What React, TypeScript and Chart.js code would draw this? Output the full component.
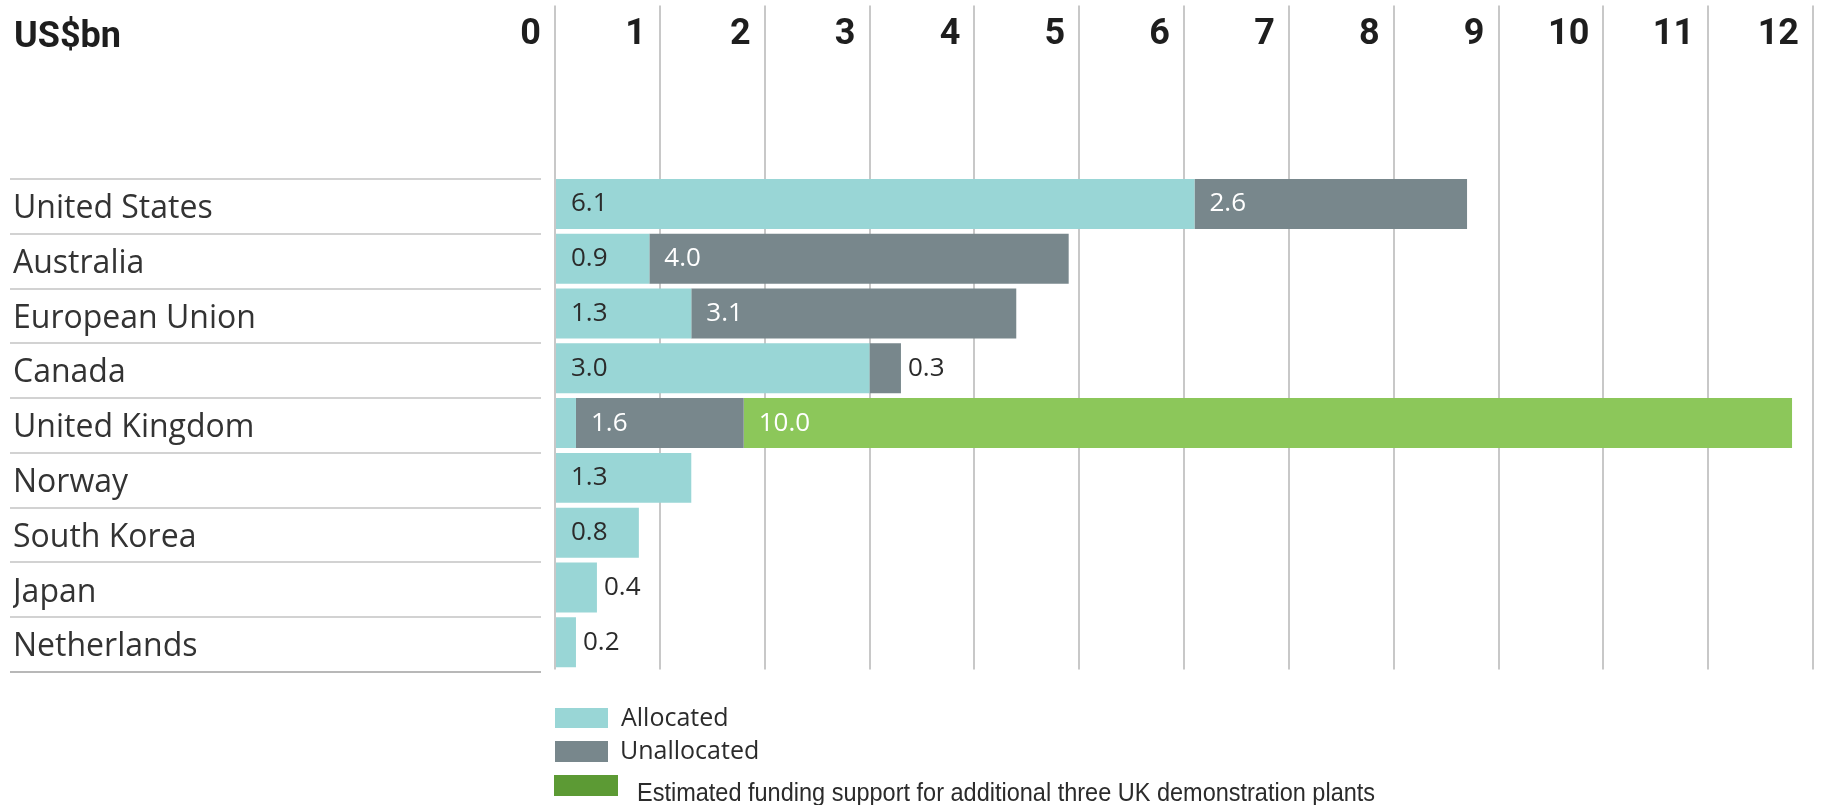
import React, { useEffect, useRef } from "react";
import { Chart, registerables } from "chart.js";

Chart.register(...registerables);

// ---------- data ----------
const categories = [
  "United States",
  "Australia",
  "European Union",
  "Canada",
  "United Kingdom",
  "Norway",
  "South Korea",
  "Japan",
  "Netherlands",
];
const allocated = [6.1, 0.9, 1.3, 3.0, 0.2, 1.3, 0.8, 0.4, 0.2];
const unallocated = [2.6, 4.0, 3.1, 0.3, 1.6, null, null, null, null];
const estimatedUK = [null, null, null, null, 10.0, null, null, null, null];
const xTickValues = [0, 1, 2, 3, 4, 5, 6, 7, 8, 9, 10, 11, 12];
const seriesNames = [
  "Allocated",
  "Unallocated",
  "Estimated funding support for additional three UK demonstration plants",
];
const unitLabel = "US$bn";

// ---------- styles ----------
const COLORS = {
  allocated: "#99d6d6",
  unallocated: "#78878c",
  estimated: "#8cc75a",
  estimatedLegend: "#5c9a34",
  grid: "#c8c8c8",
  rule: "#d2d2d2",
  text: "#2b2b2b",
};

const rowRules = {
  id: "rowRules",
  afterDraw(chart: any) {
    const y = chart.scales.y;
    const ctx = chart.ctx;
    const n = chart.data.labels.length;
    ctx.save();
    ctx.lineWidth = 2;
    for (let i = 0; i <= n; i++) {
      const yy = Math.round(y.getPixelForValue(i - 0.5) + 2.4);
      ctx.strokeStyle = i === n ? "#b8b8b8" : COLORS.rule;
      ctx.beginPath();
      ctx.moveTo(y.left - 3, yy);
      ctx.lineTo(y.right - 14, yy);
      ctx.stroke();
    }
    ctx.restore();
  },
};

const valueLabels = {
  id: "valueLabels",
  afterDatasetsDraw(chart: any) {
    const ctx = chart.ctx;
    const n = chart.data.labels.length;
    const dsCount = chart.data.datasets.length;
    ctx.save();
    ctx.font = "400 26px 'Open Sans'";
    ctx.textBaseline = "middle";
    ctx.textAlign = "left";
    for (let j = 0; j < n; j++) {
      let last = -1;
      for (let i = 0; i < dsCount; i++) {
        if (chart.data.datasets[i].data[j]) last = i;
      }
      for (let i = 0; i < dsCount; i++) {
        const v = chart.data.datasets[i].data[j];
        if (!v) continue;
        const el = chart.getDatasetMeta(i).data[j];
        const left = Math.min(el.x, el.base);
        const right = Math.max(el.x, el.base);
        const w = right - left;
        const txt = Number(v).toFixed(1);
        if (w >= 60) {
          ctx.fillStyle = i === 0 ? COLORS.text : "#ffffff";
          ctx.fillText(txt, left + 15, el.y);
        } else if (i === last) {
          ctx.fillStyle = COLORS.text;
          ctx.fillText(txt, right + 7, el.y);
        }
      }
    }
    ctx.restore();
  },
};

const legendColors = [COLORS.allocated, COLORS.unallocated, COLORS.estimatedLegend];

export default function App() {
  const canvasRef = useRef<HTMLCanvasElement | null>(null);

  useEffect(() => {
    if (!canvasRef.current) return;
    const chart = new Chart(canvasRef.current, {
      type: "bar",
      data: {
        labels: categories,
        datasets: [
          { label: seriesNames[0], data: allocated, backgroundColor: COLORS.allocated },
          { label: seriesNames[1], data: unallocated, backgroundColor: COLORS.unallocated },
          { label: seriesNames[2], data: estimatedUK, backgroundColor: COLORS.estimated },
        ],
      },
      options: {
        indexAxis: "y",
        responsive: false,
        animation: false,
        layout: { padding: { left: 13, right: 9, top: 0, bottom: 135.4 } },
        datasets: {
          bar: { barPercentage: 0.912, categoryPercentage: 1, borderWidth: 0 },
        },
        plugins: {
          legend: { display: false },
          tooltip: { enabled: false },
        },
        scales: {
          x: {
            type: "linear",
            position: "top",
            stacked: true,
            min: 0,
            max: 12,
            afterBuildTicks(scale: any) {
              scale.ticks = xTickValues.map((v) => ({ value: v }));
            },
            afterFit(scale: any) {
              scale.height = 176.6;
            },
            border: { display: false },
            grid: {
              color: COLORS.grid,
              lineWidth: 2,
              drawTicks: true,
              tickLength: 171,
            },
            ticks: {
              align: "end",
              labelOffset: -14,
              padding: -51,
              maxRotation: 0,
              autoSkip: false,
              color: "#1e1e1e",
              font: { family: "Roboto", weight: "bold", size: 36 },
              callback: (v: any) => String(v),
            },
          },
          y: {
            type: "category",
            stacked: true,
            afterFit(scale: any) {
              scale.width = 542;
            },
            border: { display: false },
            grid: { display: false, drawTicks: false },
            ticks: {
              crossAlign: "far",
              autoSkip: false,
              labelOffset: 5,
              color: "#333333",
              font: { family: "'Open Sans'", weight: "normal", size: 32 },
            },
          },
        },
      },
      plugins: [rowRules, valueLabels],
    } as any);
    return () => chart.destroy();
  }, []);

  const legendRows = [
    { boxTop: 708, boxLeft: 555, boxW: 53, boxH: 20, textLeft: 621, font: "400 25px 'Open Sans'", mid: 717, sx: 1 },
    { boxTop: 741, boxLeft: 555, boxW: 53, boxH: 21, textLeft: 620, font: "400 25px 'Open Sans'", mid: 750, sx: 1 },
    { boxTop: 775, boxLeft: 554, boxW: 64, boxH: 21, textLeft: 637, font: "400 25px 'Liberation Sans', Arial, sans-serif", mid: 793, sx: 0.94 },
  ];

  return (
    <div style={{ position: "absolute", left: 0, top: 0, width: 1822, height: 805, background: "#fff", overflow: "hidden" }}>
      <canvas ref={canvasRef} width={1822} height={805} style={{ display: "block", width: 1822, height: 805 }} />
      <div
        style={{
          position: "absolute",
          left: 14,
          top: 13,
          font: "bold 36px Roboto",
          lineHeight: "44px",
          color: "#1e1e1e",
          whiteSpace: "nowrap",
        }}
      >
        {unitLabel}
      </div>
      {legendRows.map((r, i) => (
        <React.Fragment key={i}>
          <div
            style={{
              position: "absolute",
              left: r.boxLeft,
              top: r.boxTop,
              width: r.boxW,
              height: r.boxH,
              background: legendColors[i],
            }}
          />
          <div
            style={{
              position: "absolute",
              left: r.textLeft,
              top: r.mid - 16,
              height: 30,
              font: r.font,
              lineHeight: "30px",
              color: "#2b2b2b",
              whiteSpace: "nowrap",
              transform: `scaleX(${r.sx})`,
              transformOrigin: "0 50%",
            }}
          >
            {seriesNames[i]}
          </div>
        </React.Fragment>
      ))}
    </div>
  );
}
